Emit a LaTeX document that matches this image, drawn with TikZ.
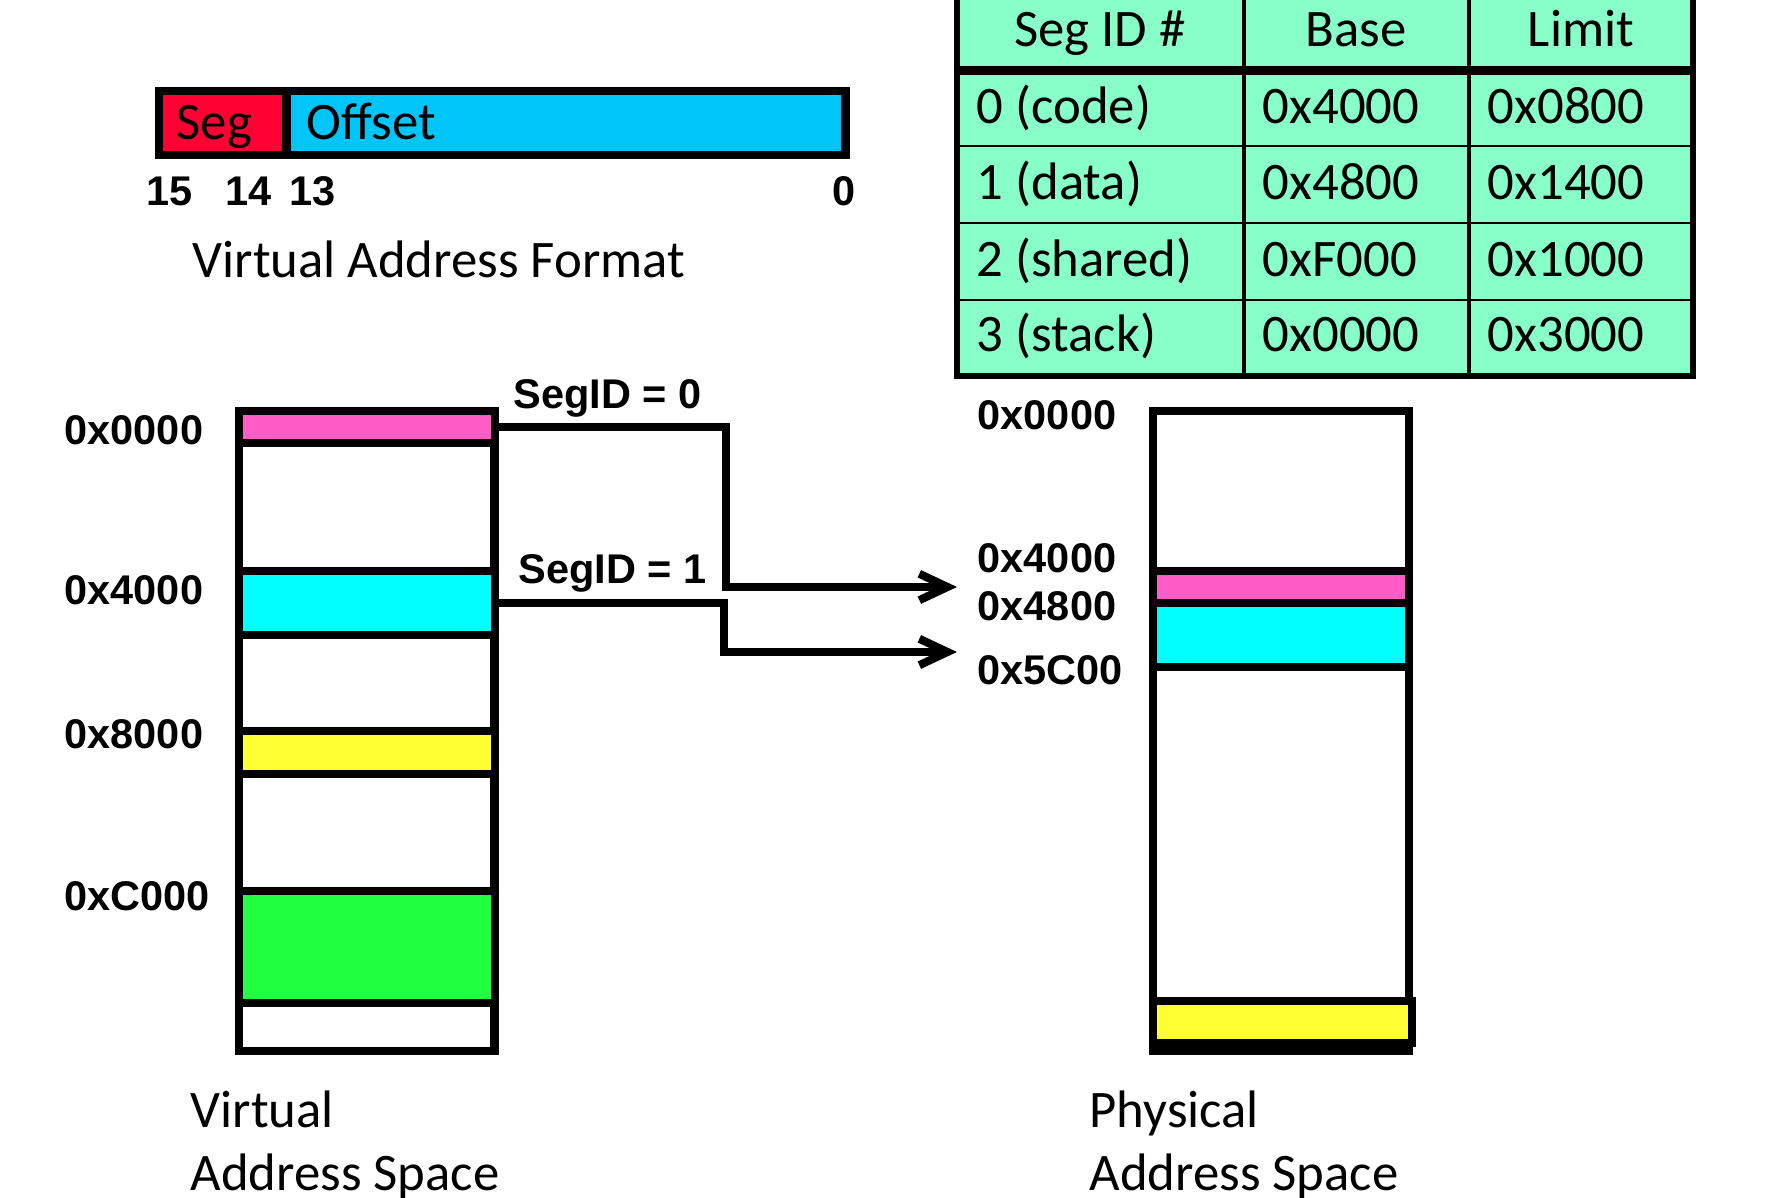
\documentclass[tikz,border=0pt]{standalone}
\usepackage{fontspec}
\setmainfont{Carlito}
\newfontfamily\labelfont{Liberation Sans}
\usetikzlibrary{arrows.meta}

\definecolor{segred}{HTML}{FF0033}
\definecolor{offblue}{HTML}{00C5F8}
\definecolor{tablegreen}{HTML}{88FFC8}
\definecolor{codepink}{HTML}{FF5CC8}
\definecolor{datacyan}{HTML}{00FFFF}
\definecolor{sharedyellow}{HTML}{FFFF33}
\definecolor{stackgreen}{HTML}{20FF40}

\tikzset{
  band/.style={draw, line width=2.3pt, inner sep=0pt, outer sep=0pt, minimum width=25.6mm},
  addr/.style={anchor=base west, inner sep=0pt, font=\labelfont\bfseries\fontsize{11.8}{14}\selectfont},
  txt/.style={anchor=base west, inner sep=0pt, font=\fontsize{15}{18}\selectfont},
  segarrow/.style={line width=2.3pt, -{Straight Barb[length=8pt,width=7.5pt]}}
}

\begin{document}
\begin{tikzpicture}[x=0.01cm, y=-0.01cm]
      \useasboundingbox (0,0) rectangle (1788,1198);

      % address format
      \filldraw [fill=offblue, line width=2.3pt] (286.5,91) rectangle (845.5,155);
      \filldraw [fill=segred, line width=2.3pt] (159,91) rectangle (286.5,155);
      \node [txt] (seg) at (176,140) {Seg};
      \node [txt] (offset) at (306,140) {Offset};
      \node [addr] (bit15) at (146,206) {15};
      \node [addr] (bit14) at (225,206) {14};
      \node [addr] (bit13) at (289,206) {13};
      \node [addr] (bit0) at (832,206) {0};
      \node [txt] (vaformat) at (192,278) {Virtual Address Format};

      % segment table
      \fill [tablegreen] (957,-20) rectangle (1692.5,376);
      \draw [line width=0.9pt] (1244,-20) -- (1244,376);
      \draw [line width=0.9pt] (1469,-20) -- (1469,376);
      \draw [line width=0.8pt] (957,146) -- (1692.5,146);
      \draw [line width=0.8pt] (957,223) -- (1692.5,223);
      \draw [line width=0.8pt] (957,300) -- (1692.5,300);
      \draw [line width=2.6pt] (957,70.5) -- (1692.5,70.5);
      \draw [line width=1.7pt] (957,-20) rectangle (1692.5,376);

      \node [txt, anchor=base] (hsegid) at (1100,47) {Seg ID \#};
      \node [txt, anchor=base] (hbase) at (1356,47) {Base};
      \node [txt, anchor=base] (hlimit) at (1581,47) {Limit};
      \node [txt] (id0) at (976,124) {0 (code)};
      \node [txt] (base0) at (1262,124) {0x4000};
      \node [txt] (limit0) at (1487,124) {0x0800};
      \node [txt] (id1) at (976,200) {1 (data)};
      \node [txt] (base1) at (1262,200) {0x4800};
      \node [txt] (limit1) at (1487,200) {0x1400};
      \node [txt] (id2) at (976,277) {2 (shared)};
      \node [txt] (base2) at (1262,277) {0xF000};
      \node [txt] (limit2) at (1487,277) {0x1000};
      \node [txt] (id3) at (976,352) {3 (stack)};
      \node [txt] (base3) at (1262,352) {0x0000};
      \node [txt] (limit3) at (1487,352) {0x3000};

      % virtual address space
      \draw [line width=2.3pt] (239,411) rectangle (494.5,1051);
      \node [band, fill=codepink, minimum height=3.2mm] (vcode) at (366.75,427) {};
      \node [band, fill=datacyan, minimum height=6.4mm] (vdata) at (366.75,603) {};
      \node [band, fill=sharedyellow, minimum height=4.3mm] (vshared) at (366.75,752.5) {};
      \node [band, fill=stackgreen, minimum height=11.2mm] (vstack) at (366.75,947) {};

      \node [addr] (v0000) at (64,445) {0x0000};
      \node [addr] (v4000) at (64,605) {0x4000};
      \node [addr] (v8000) at (64,749) {0x8000};
      \node [addr] (vC000) at (64,910) {0xC000};

      % physical address space
      \draw [line width=2.3pt] (1153,411) rectangle (1409,1051);
      \node [band, fill=codepink, minimum height=3.2mm] (pcode) at (1281,587) {};
      \node [band, fill=datacyan, minimum height=6.4mm] (pdata) at (1281,635) {};
      \node [band, fill=sharedyellow, minimum height=4.2mm, minimum width=25.9mm] (pshared) at (1282.5,1022) {};

      \node [addr] (p0000) at (977,430) {0x0000};
      \node [addr] (p4000) at (977,573) {0x4000};
      \node [addr] (p4800) at (977,621) {0x4800};
      \node [addr] (p5C00) at (977,685) {0x5C00};

      % translation arrows
      \coordinate (tipcode) at (957,587);
      \coordinate (tipdata) at (957,652);
      \draw [segarrow] (vcode.east) -- ++(231.5,0) |- (tipcode);
      \draw [segarrow] (vdata.east) -- ++(229.5,0) |- (tipdata);
      \node [addr] (segid0) at (513,409) {SegID = 0};
      \node [addr] (segid1) at (518,584) {SegID = 1};

      \node [txt] (vspace1) at (190,1127) {Virtual};
      \node [txt] (vspace2) at (190,1190) {Address Space};
      \node [txt] (pspace1) at (1089,1127) {Physical};
      \node [txt] (pspace2) at (1089,1190) {Address Space};

    \end{tikzpicture}
\end{document}
